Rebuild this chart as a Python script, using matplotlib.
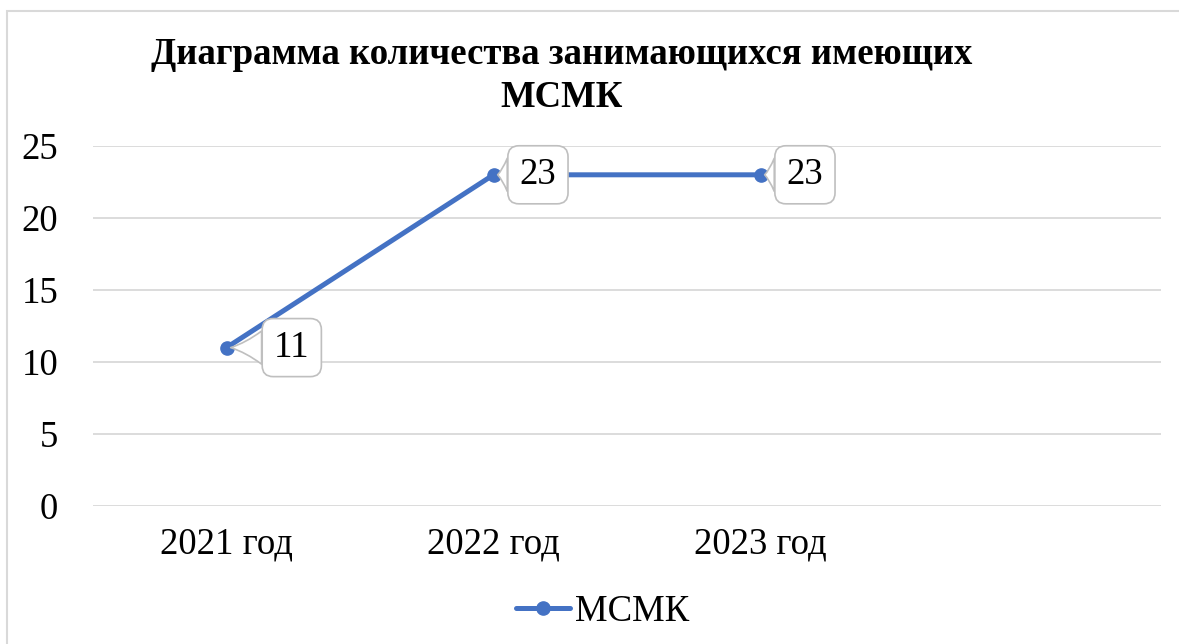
import matplotlib
matplotlib.use("Agg")
import matplotlib.pyplot as plt
from matplotlib.patches import Rectangle

categories = ["2021 год", "2022 год", "2023 год"]
values = [11, 23, 23]
series_name = "МСМК"
title = "Диаграмма количества занимающихся имеющих\nМСМК"
yticks = [0, 5, 10, 15, 20, 25]
label_offsets = [(47, 0), (32, 0), (32, 0)]

plt.rcParams["font.family"] = ["Liberation Serif", "DejaVu Serif"]

W, H = 1179, 644
fig = plt.figure(figsize=(W / 100, H / 100), dpi=100)

# chart border (cut off at right/bottom as in the original screenshot)
fig.patches.append(Rectangle((7 / W, -0.1), 1.2, 1 - 11 / H + 0.1,
                             transform=fig.transFigure, fill=False,
                             edgecolor="#d9d9d9", linewidth=1.5))

ax = fig.add_axes([93 / W, 1 - 506 / H, (1161 - 93) / W, (506 - 146) / H])
xs = list(range(len(categories)))
ax.plot(xs, values, color="#4472C4", linewidth=3.6, marker="o", markersize=9.5,
        label=series_name, solid_capstyle="round")

ax.set_xlim(-0.5, 3.5)
ax.set_ylim(0, 25)
ax.set_yticks(yticks)
ax.set_xticks(xs)
ax.set_xticklabels(categories)
ax.tick_params(axis="y", length=0, pad=25, labelsize=26.5)
ax.tick_params(axis="x", length=0, pad=15, labelsize=26.5)
ax.grid(axis="y", color="#d9d9d9", linewidth=1.3)
ax.set_axisbelow(True)
for s in ax.spines.values():
    s.set_visible(False)

for x, v, off in zip(xs, values, label_offsets):
    ax.annotate(str(v), xy=(x, v), xytext=off, textcoords="offset points",
                ha="center", va="center", fontsize=26.5,
                bbox=dict(boxstyle="round,pad=0.32,rounding_size=0.3",
                          facecolor="white", edgecolor="#bfbfbf", linewidth=1.2),
                arrowprops=dict(arrowstyle="wedge,tail_width=0.9,shrink_factor=0.4",
                                facecolor="white", edgecolor="#bfbfbf",
                                linewidth=1.2, shrinkA=0, shrinkB=3))

fig.text(562 / W, 1 - 76 / H, title, ha="center", va="center", fontsize=26.5,
         fontweight="bold", linespacing=1.3)

fig.legend(loc="center", bbox_to_anchor=(603 / W, 1 - 612 / H), frameon=False,
           fontsize=26.5, handlelength=1.45, handletextpad=0.15)

fig.savefig("out.png", dpi=100, facecolor="white")
